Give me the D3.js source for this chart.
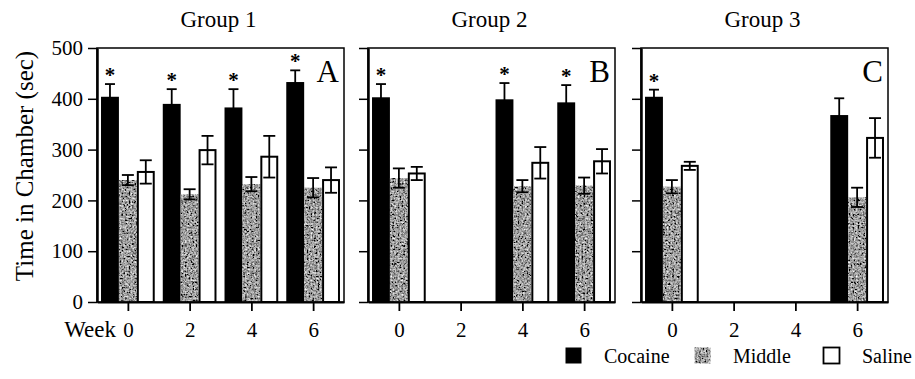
<!DOCTYPE html>
<html>
<head>
<meta charset="utf-8">
<script src="https://cdn.jsdelivr.net/npm/d3@7"></script>
<style>
  body { margin: 0; background: #fff; }
  svg { display: block; }
  svg text { font-family: "Liberation Serif", "Times New Roman", Times, "DejaVu Serif", serif; }
</style>
</head>
<body>
<svg id="chart"></svg>
<script>
/* globals d3 */

const width = 915;
const height = 379;

// data
const groups = ["Group 1", "Group 2", "Group 3"];
const panelLetters = ["A", "B", "C"];
const conditions = ["Cocaine", "Middle", "Saline"];
const weekTicks = [0, 2, 4, 6];
const yTicks = [0, 100, 200, 300, 400, 500];

const groupWeeks = [[0, 2, 4, 6], [0, 4, 6], [0, 6]];
const cocaineMean = [[404, 390, 383, 433], [403, 399, 393], [404, 368]];
const cocaineErr = [[25, 29, 36, 23], [26, 32, 34], [14, 33]];
const middleMean = [[240, 212, 232, 225], [244, 228, 229], [227, 206]];
const middleErr = [[10, 10, 14, 19], [19, 12, 16], [13, 19]];
const salineMean = [[256, 299, 286, 240], [253, 274, 277], [268, 323]];
const salineErr = [[23, 28, 41, 25], [13, 31, 24], [8, 39]];
const starred = [[true, true, true, true], [true, true, true], [true, false]];

const panelLeft = [97, 368, 641];
const panelW = 247;
const marginTop = 48;
const plotBottom = 302;

const y = d3.scaleLinear([0, 500], [plotBottom, marginTop]);

const barW = 0.58;          // in weeks
const offsets = [-barW, 0, barW];

const svg = d3.select("#chart")
    .attr("width", width)
    .attr("height", height)
    .attr("viewBox", [0, 0, width, height]);

// speckled gray for the "Middle" bars
const defs = svg.append("defs");
const f = defs.append("filter")
    .attr("id", "speckle")
    .attr("x", 0).attr("y", 0).attr("width", 1).attr("height", 1);
f.append("feTurbulence")
    .attr("type", "fractalNoise")
    .attr("baseFrequency", 0.55)
    .attr("numOctaves", 2)
    .attr("seed", 3)
    .attr("result", "noise");
f.append("feColorMatrix")
    .attr("in", "noise")
    .attr("type", "matrix")
    .attr("values", "0.33 0.33 0.33 0 0  0.33 0.33 0.33 0 0  0.33 0.33 0.33 0 0  0 0 0 0 1")
    .attr("result", "gray");
const ct = f.append("feComponentTransfer").attr("in", "gray").attr("result", "contrast");
["feFuncR", "feFuncG", "feFuncB"].forEach(n =>
  ct.append(n).attr("type", "linear").attr("slope", 2.6).attr("intercept", -0.95));
f.append("feComposite")
    .attr("in", "contrast")
    .attr("in2", "SourceGraphic")
    .attr("operator", "in");

function drawBar(g, x, week, ci, mean, err) {
  const x0 = x(week + offsets[ci] - barW / 2);
  const x1 = x(week + offsets[ci] + barW / 2);
  const cx = (x0 + x1) / 2;

  if (ci === 0) {
    g.append("rect")
        .attr("x", x0).attr("y", y(mean))
        .attr("width", x1 - x0).attr("height", y(0) - y(mean))
        .attr("fill", "#000");
  } else if (ci === 1) {
    g.append("rect")
        .attr("x", x0).attr("y", y(mean))
        .attr("width", x1 - x0).attr("height", y(0) - y(mean))
        .attr("fill", "#808080")
        .attr("filter", "url(#speckle)");
  } else {
    g.append("rect")
        .attr("x", x0 + 1).attr("y", y(mean))
        .attr("width", x1 - x0 - 2).attr("height", y(0) - y(mean))
        .attr("fill", "#fff")
        .attr("stroke", "#000")
        .attr("stroke-width", 2);
  }

  // error bar
  const cap = ci === 0 ? 5 : 6;
  const eb = g.append("g").attr("stroke", "#000").attr("stroke-width", 1.8);
  eb.append("line").attr("x1", cx).attr("x2", cx).attr("y1", y(mean - err)).attr("y2", y(mean + err));
  eb.append("line").attr("x1", cx - cap).attr("x2", cx + cap).attr("y1", y(mean + err)).attr("y2", y(mean + err));
  eb.append("line").attr("x1", cx - cap).attr("x2", cx + cap).attr("y1", y(mean - err)).attr("y2", y(mean - err));
}

groups.forEach((name, gi) => {
  const left = panelLeft[gi];
  const x = d3.scaleLinear([-1, 7], [left, left + panelW]);
  const g = svg.append("g");

  // title
  g.append("text")
      .attr("x", left + panelW / 2 - 2)
      .attr("y", 27)
      .attr("text-anchor", "middle")
      .attr("font-size", 23)
      .text(name);

  // bars
  groupWeeks[gi].forEach((w, wi) => {
    drawBar(g, x, w, 0, cocaineMean[gi][wi], cocaineErr[gi][wi]);
    drawBar(g, x, w, 1, middleMean[gi][wi], middleErr[gi][wi]);
    drawBar(g, x, w, 2, salineMean[gi][wi], salineErr[gi][wi]);
    if (starred[gi][wi]) {
      g.append("text")
          .attr("x", x(w + offsets[0]))
          .attr("y", y(cocaineMean[gi][wi] + cocaineErr[gi][wi]) - 2)
          .attr("text-anchor", "middle")
          .attr("font-weight", "bold")
          .attr("font-size", 21)
          .text("*");
    }
  });

  // frame
  g.append("rect")
      .attr("x", left).attr("y", marginTop)
      .attr("width", panelW).attr("height", plotBottom - marginTop)
      .attr("fill", "none")
      .attr("stroke", "#000")
      .attr("stroke-width", 1.5);

  // y axis
  const yAxis = d3.axisLeft(y).tickValues(yTicks).tickSize(9).tickSizeOuter(0).tickPadding(5);
  if (gi > 0) yAxis.tickFormat("");
  g.append("g")
      .attr("transform", `translate(${left},0)`)
      .call(yAxis)
      .call(a => a.select(".domain").attr("stroke-width", 2.5))
      .call(a => a.selectAll(".tick line").attr("stroke-width", 1.5))
      .call(a => a.selectAll("text")
          .attr("font-size", 21)
          .attr("fill", "#000"));

  // x axis
  g.append("g")
      .attr("transform", `translate(0,${plotBottom})`)
      .call(d3.axisBottom(x).tickValues(weekTicks).tickSize(9).tickSizeOuter(0).tickPadding(11))
      .call(a => a.select(".domain").attr("stroke-width", 2))
      .call(a => a.selectAll(".tick line").attr("stroke-width", 1.8))
      .call(a => a.selectAll("text")
          .attr("font-size", 21)
          .attr("fill", "#000"));

  // panel letter
  g.append("text")
      .attr("x", left + panelW - 5)
      .attr("y", 82)
      .attr("text-anchor", "end")
      .attr("font-size", 31)
      .text(panelLetters[gi]);
});

// axis titles
svg.append("text")
    .attr("transform", `translate(33,${(marginTop + plotBottom) / 2 - 9}) rotate(-90)`)
    .attr("text-anchor", "middle")
    .attr("font-size", 25)
    .text("Time in Chamber (sec)");

svg.append("text")
    .attr("x", 116)
    .attr("y", 337)
    .attr("text-anchor", "end")
    .attr("font-size", 23)
    .text("Week");

// legend
const legend = svg.append("g")
    .selectAll("g")
    .data(conditions)
    .join("g")
      .attr("transform", (d, i) => `translate(${565 + i * 129},347)`);

legend.append("rect")
    .attr("x", 0.5).attr("y", 0.5)
    .attr("width", 16).attr("height", 16)
    .attr("fill", (d, i) => i === 0 ? "#000" : i === 1 ? "#808080" : "#fff")
    .attr("filter", (d, i) => i === 1 ? "url(#speckle)" : null)
    .attr("stroke", (d, i) => i === 2 ? "#000" : "none")
    .attr("stroke-width", 1.8);

legend.append("text")
    .attr("x", 39)
    .attr("y", 16)
    .attr("font-size", 20)
    .text(d => d);
</script>
</body>
</html>
